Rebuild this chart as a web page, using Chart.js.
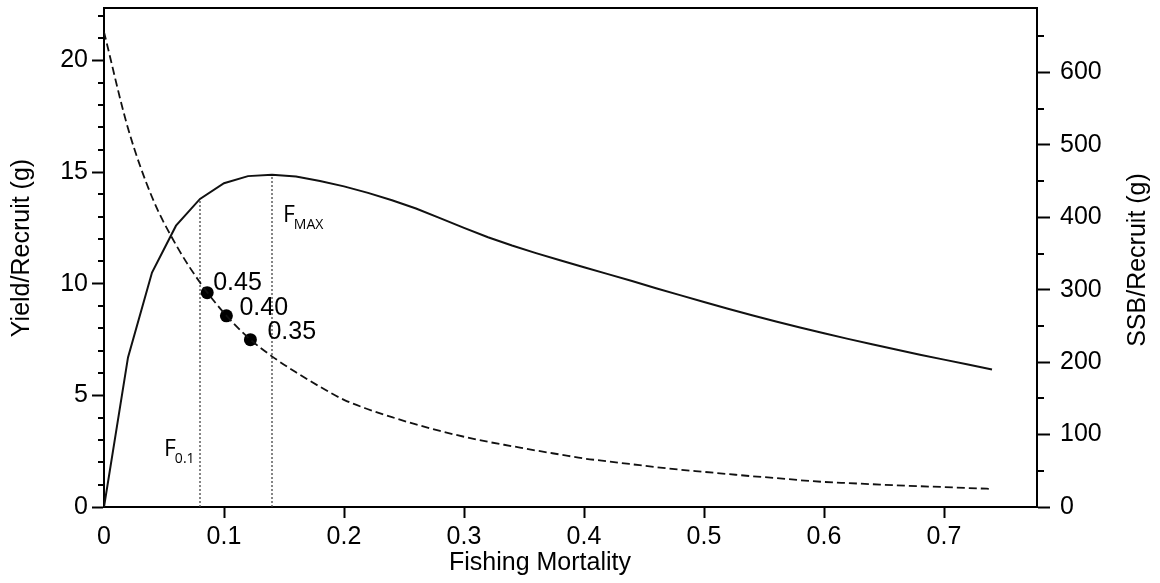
<!DOCTYPE html>
<html>
<head>
<meta charset="utf-8">
<title>Yield and SSB per recruit</title>
<script src="https://cdn.jsdelivr.net/npm/chart.js@4.4.1/dist/chart.umd.min.js"></script>
<style>
  html, body { margin: 0; padding: 0; background: #fff; }
  #wrap { width: 1160px; height: 583px; position: relative; }
</style>
</head>
<body>
<div id="wrap"><canvas id="chart"></canvas></div>
<script>
// Fishing mortality grid (x)
const fishingMortality = [0, 0.02, 0.04, 0.06, 0.08, 0.10, 0.12, 0.14, 0.16, 0.18,
  0.20, 0.22, 0.24, 0.26, 0.28, 0.30, 0.32, 0.34, 0.36, 0.38,
  0.40, 0.42, 0.44, 0.46, 0.48, 0.50, 0.52, 0.54, 0.56, 0.58,
  0.60, 0.62, 0.64, 0.66, 0.68, 0.70, 0.72, 0.74];

// Yield per recruit (g), left axis
const yieldPerRecruit = [0, 6.7, 10.5, 12.6, 13.8, 14.5, 14.82, 14.88, 14.8, 14.6,
  14.36, 14.07, 13.74, 13.37, 12.94, 12.5, 12.08, 11.71, 11.37, 11.05,
  10.74, 10.43, 10.12, 9.8, 9.49, 9.18, 8.88, 8.59, 8.31, 8.04,
  7.78, 7.53, 7.29, 7.05, 6.82, 6.6, 6.38, 6.16];

// Spawning stock biomass per recruit (g), right axis
const ssbPerRecruit = [656, 523, 428, 362, 310, 268, 234, 208, 186, 166,
  148, 135, 124, 114, 105, 97, 90, 84, 78, 72.5,
  67, 63, 59, 55, 51.5, 48.5, 45.5, 42.5, 40, 37,
  34.6, 33, 31.5, 30, 28.7, 27.5, 26.2, 25];

// Reference points F0.1 and Fmax
const refNames = ['0.1', 'MAX'];
const refF = [0.08, 0.14];
const refYield = [13.8, 14.88];

// %SPR points on the SSB curve
const sprLabels = ['0.45', '0.40', '0.35'];
const sprF = [0.086, 0.102, 0.122];
const sprSSB = [296, 264, 231];

// Axis ranges
const xMax = 0.7775;
const yieldMax = 22.35;
const ssbMax = 689;

const FONT = '"Liberation Sans", Arial, Helvetica, sans-serif';
const LABEL_FONT = '"Open Sans", "Liberation Sans", sans-serif';

function toPoints(xs, ys) {
  return xs.map((x, i) => ({ x: x, y: ys[i] }));
}

const datasets = [
  {
    label: 'Yield/Recruit',
    data: toPoints(fishingMortality, yieldPerRecruit),
    yAxisID: 'yL',
    borderColor: '#111',
    borderWidth: 2,
    pointRadius: 0,
    tension: 0
  },
  {
    label: 'SSB/Recruit',
    data: toPoints(fishingMortality, ssbPerRecruit),
    yAxisID: 'yR',
    borderColor: '#111',
    borderWidth: 1.8,
    borderDash: [8, 4],
    pointRadius: 0,
    cubicInterpolationMode: 'monotone'
  }
];

// vertical dotted lines from the axis up to the yield curve
refF.forEach((f, i) => {
  datasets.push({
    label: 'F' + refNames[i],
    data: [{ x: f, y: 0 }, { x: f, y: refYield[i] }],
    yAxisID: 'yL',
    borderColor: '#444',
    borderWidth: 1.3,
    borderDash: [2, 2],
    pointRadius: 0
  });
});

datasets.push({
  label: 'SPR',
  data: toPoints(sprF, sprSSB),
  yAxisID: 'yR',
  showLine: false,
  pointRadius: 6.5,
  pointBackgroundColor: '#000',
  pointBorderColor: '#000',
  pointBorderWidth: 0
});

// Minor ticks, frame, titles and annotation text
const extrasPlugin = {
  id: 'extras',
  afterDraw(chart) {
    const { ctx, chartArea: a, scales } = chart;
    const x = scales.x, yL = scales.yL, yR = scales.yR;
    ctx.save();

    // top frame line
    ctx.strokeStyle = '#000';
    ctx.lineWidth = 2;
    ctx.beginPath();
    ctx.moveTo(a.left - 1, a.top);
    ctx.lineTo(a.right + 1, a.top);
    ctx.stroke();

    // minor ticks
    ctx.beginPath();
    for (let v = 1; v <= yL.max; v += 1) {
      if (v % 5 === 0) continue;
      const py = Math.round(yL.getPixelForValue(v));
      ctx.moveTo(a.left - 6, py);
      ctx.lineTo(a.left, py);
    }
    for (let v = 50; v <= yR.max; v += 100) {
      const py = Math.round(yR.getPixelForValue(v));
      ctx.moveTo(a.right, py);
      ctx.lineTo(a.right + 7, py);
    }
    ctx.stroke();

    // axis titles
    ctx.fillStyle = '#000';
    ctx.font = '25px ' + FONT;
    ctx.textAlign = 'center';
    ctx.textBaseline = 'alphabetic';
    ctx.fillText('Fishing Mortality', 540, 570);

    ctx.save();
    ctx.translate(29, 248);
    ctx.rotate(-Math.PI / 2);
    ctx.fillText('Yield/Recruit (g)', 0, 0);
    ctx.restore();

    ctx.save();
    ctx.translate(1145, 260);
    ctx.rotate(-Math.PI / 2);
    ctx.fillText('SSB/Recruit (g)', 0, 0);
    ctx.restore();

    // SPR labels next to the dots
    const meta = chart.getDatasetMeta(chart.data.datasets.length - 1);
    const offsets = [[6, -10], [13, -8], [17, -8]];
    ctx.textAlign = 'left';
    ctx.textBaseline = 'middle';
    ctx.font = '25px ' + FONT;
    meta.data.forEach((pt, i) => {
      ctx.fillText(sprLabels[i], pt.x + offsets[i][0], pt.y + offsets[i][1]);
    });

    // F0.1 and Fmax labels
    ctx.textBaseline = 'alphabetic';
    const drawRef = (name, left, baseline) => {
      ctx.font = '23px ' + LABEL_FONT;
      ctx.fillText('F', left, baseline);
      const w = ctx.measureText('F').width;
      ctx.font = '14px ' + LABEL_FONT;
      ctx.fillText(name, left + w - 1, baseline + 7);
    };
    drawRef(refNames[1], x.getPixelForValue(refF[1]) + 11, yL.getPixelForValue(12.77));
    drawRef(refNames[0], x.getPixelForValue(refF[0]) - 36, yL.getPixelForValue(2.27));

    ctx.restore();
  }
};

const axisBorder = { display: true, color: '#000', width: 2 };

// fixed box sizes so the plot area sits where it does in the figure
function fixVertical(width) {
  return s => {
    s.width = width;
    s.paddingTop = 0;
    s.paddingBottom = 0;
  };
}

new Chart(document.getElementById('chart'), {
  type: 'line',
  data: { datasets: datasets },
  options: {
    responsive: true,
    maintainAspectRatio: false,
    animation: false,
    layout: { padding: { top: 8, left: 0, right: 0, bottom: 0 } },
    plugins: {
      legend: { display: false },
      tooltip: { enabled: false }
    },
    scales: {
      x: {
        type: 'linear',
        position: 'bottom',
        min: 0,
        max: xMax,
        border: axisBorder,
        grid: {
          drawOnChartArea: false,
          tickLength: 11,
          tickWidth: 2,
          tickColor: c => (c.tick && c.tick.value === 0 ? 'rgba(0,0,0,0)' : '#000')
        },
        ticks: {
          stepSize: 0.1,
          includeBounds: false,
          autoSkip: false,
          maxRotation: 0,
          padding: 4,
          color: '#000',
          font: { family: FONT, size: 25 },
          callback: v => (v === 0 ? '0' : v.toFixed(1))
        },
        afterFit: s => {
          s.height = 76;
          s.paddingLeft = 0;
          s.paddingRight = 0;
        }
      },
      yL: {
        type: 'linear',
        position: 'left',
        min: 0,
        max: yieldMax,
        border: axisBorder,
        grid: { drawOnChartArea: false, tickLength: 12, tickWidth: 2, tickColor: '#000' },
        ticks: {
          stepSize: 5,
          includeBounds: false,
          padding: 4,
          color: '#000',
          font: { family: FONT, size: 25 }
        },
        afterFit: fixVertical(104)
      },
      yR: {
        type: 'linear',
        position: 'right',
        min: 0,
        max: ssbMax,
        border: axisBorder,
        grid: { drawOnChartArea: false, tickLength: 13, tickWidth: 2, tickColor: '#000' },
        ticks: {
          stepSize: 100,
          includeBounds: false,
          padding: 10,
          color: '#000',
          font: { family: FONT, size: 25 }
        },
        afterFit: fixVertical(123)
      }
    }
  },
  plugins: [extrasPlugin]
});
</script>
</body>
</html>
